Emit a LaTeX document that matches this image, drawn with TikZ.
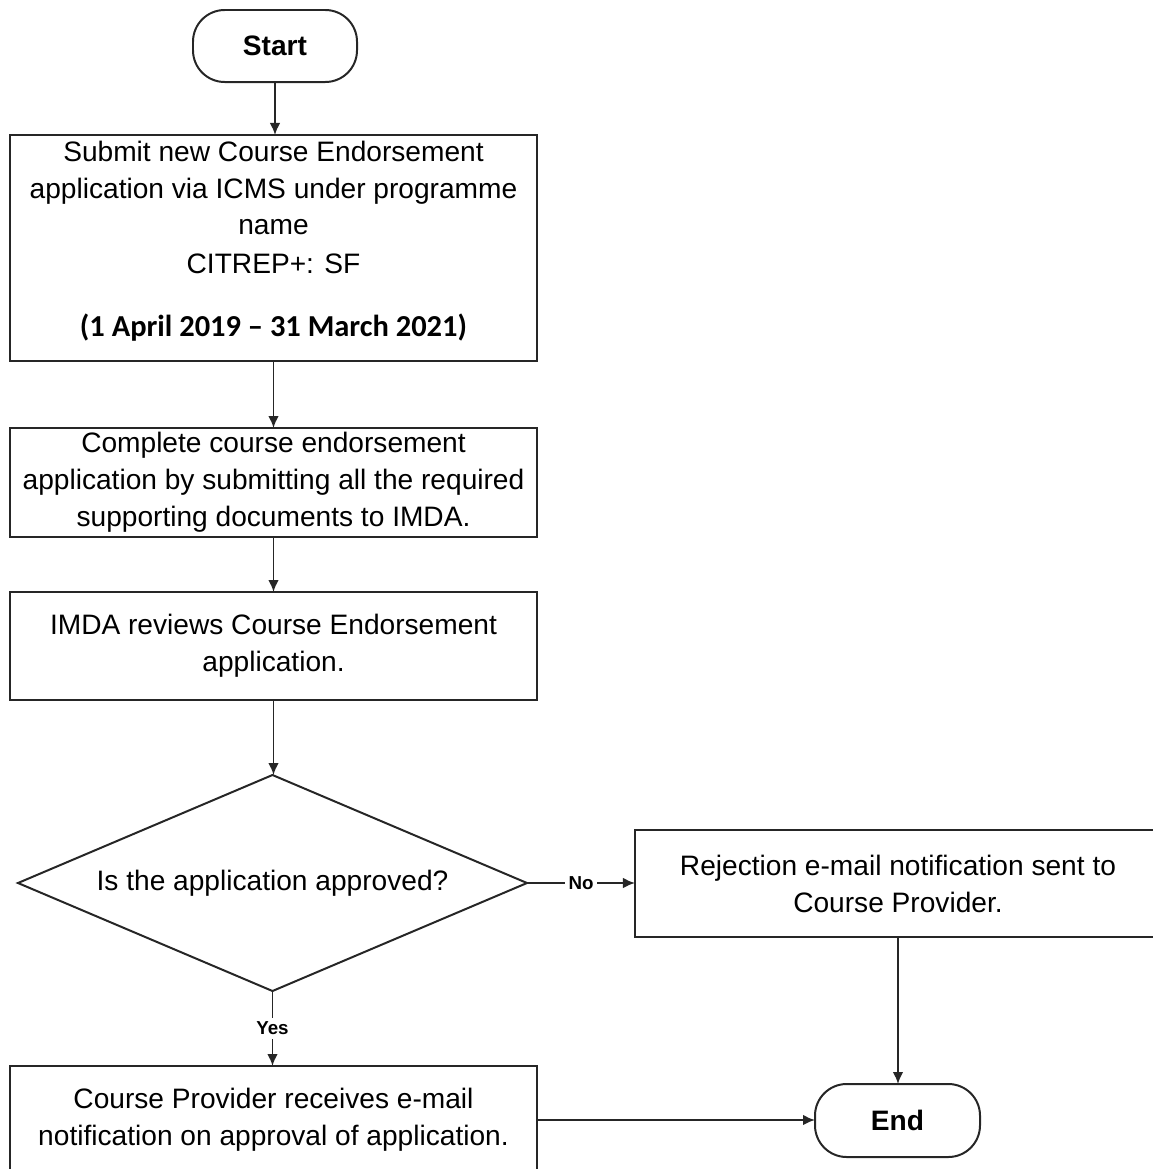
\documentclass[tikz,border=0pt]{standalone}
\usepackage{fontspec}
\setmainfont{Liberation Sans}
\newfontfamily\calfont{Carlito}
\usetikzlibrary{shapes.geometric,arrows.meta}
\begin{document}
\begin{tikzpicture}[x=0.03cm,y=-0.03cm,
  every node/.style={inner sep=0pt, outer sep=0pt},
  box/.style={draw=black!85, line width=1.7pt, rectangle, align=center,
    font=\fontsize{24}{31.5}\selectfont, minimum width=15.81cm},
  term/.style={draw=black!85, line width=1.7pt, rectangle, rounded corners=0.95cm,
    font=\bfseries\fontsize{24}{28}\selectfont},
  dec/.style={draw=black!85, line width=1.7pt, diamond, aspect=2.36,
    minimum width=15.27cm, minimum height=6.48cm, font=\fontsize{24}{28}\selectfont},
  flow/.style={draw=black!85, line width=1.7pt, -{Latex[length=3.6mm,width=3.2mm]}},
  lbl/.style={fill=white, font=\bfseries\fontsize{16}{18}\selectfont, inner sep=3pt}
]
\useasboundingbox (0,0) rectangle (1153,1169);
\clip (0,0) rectangle (1153,1169);

\node[term, minimum width=4.92cm, minimum height=2.16cm] (start) at (275,46) {Start};

\node[box, minimum height=6.78cm] (b1) at (273.5,248) {};
\node[align=center, font=\fontsize{24}{31.5}\selectfont] (t1) at (273.5,241)
  {Submit new Course Endorsement\\application via ICMS under programme\\name\\[1.7pt]CITREP+: SF\\[22pt]{\calfont\bfseries\fontsize{26}{31.5}\selectfont (1 April 2019 – 31 March 2021)}};

\node[box, minimum height=3.27cm] (b2) at (273.5,482.5)
  {Complete course endorsement\\application by submitting all the required\\supporting documents to IMDA.};

\node[box, minimum height=3.24cm] (b3) at (273.5,646)
  {IMDA reviews Course Endorsement\\application.};

\node[dec] (dec) at (272.5,883) {Is the application approved?};

\node[box, minimum width=15.78cm, minimum height=3.21cm] (rej) at (898,883.5)
  {Rejection e-mail notification sent to\\Course Provider.};

\node[box, minimum height=3.24cm] (b4) at (273.5,1120)
  {Course Provider receives e-mail\\notification on approval of application.};

\node[term, minimum width=4.95cm, minimum height=2.19cm] (end) at (897.5,1120.5) {End};

\draw[flow] (start.south) -- (start.south |- b1.north);
\draw[flow] (b1.south) -- (b2.north);
\draw[flow] (b2.south) -- (b3.north);
\draw[flow] (b3.south) -- (b3.south |- dec.north);
\draw[flow] (dec.east) -- node[lbl] {No} (dec.east -| rej.west);
\draw[flow] (dec.south) -- node[lbl] {Yes} (dec.south |- b4.north);
\draw[flow] (rej.south) -- (rej.south |- end.north);
\draw[flow] (b4.east) -- (b4.east -| end.west);
\end{tikzpicture}
\end{document}
